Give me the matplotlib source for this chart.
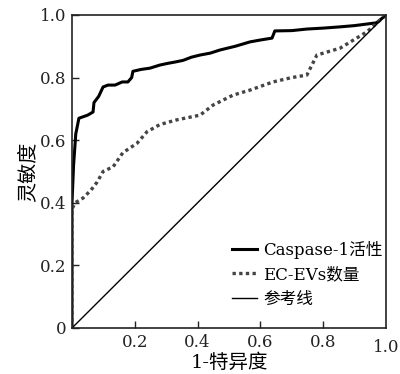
import matplotlib
matplotlib.use('Agg')
import matplotlib.pyplot as plt

plt.rcParams['font.family'] = ['DejaVu Serif', 'Noto Sans CJK SC']

# Caspase-1 activity ROC
casp_fpr = [0, 0.0, 0.005, 0.012, 0.022, 0.05, 0.067, 0.07, 0.085, 0.099, 0.115, 0.137,
            0.16, 0.178, 0.19, 0.194, 0.22, 0.248, 0.28, 0.303, 0.33, 0.354, 0.38, 0.408,
            0.44, 0.471, 0.52, 0.567, 0.6, 0.637, 0.646, 0.7, 0.748, 0.8, 0.854, 0.9,
            0.939, 0.97, 1.0]
casp_tpr = [0, 0.40, 0.52, 0.62, 0.67, 0.68, 0.69, 0.72, 0.74, 0.77, 0.776, 0.776,
            0.786, 0.786, 0.80, 0.82, 0.826, 0.83, 0.84, 0.845, 0.85, 0.855, 0.865, 0.872,
            0.878, 0.888, 0.90, 0.914, 0.92, 0.926, 0.949, 0.95, 0.955, 0.958, 0.962, 0.966,
            0.971, 0.975, 1.0]

# EC-EVs count ROC
ev_fpr = [0, 0.0, 0.0, 0.01, 0.035, 0.06, 0.080, 0.099, 0.131, 0.162, 0.207, 0.239,
          0.280, 0.334, 0.408, 0.449, 0.513, 0.567, 0.640, 0.700, 0.748, 0.780, 0.854,
          0.939, 1.0]
ev_tpr = [0, 0.28, 0.38, 0.40, 0.415, 0.44, 0.466, 0.50, 0.515, 0.56, 0.59, 0.627,
          0.65, 0.665, 0.68, 0.712, 0.744, 0.76, 0.786, 0.80, 0.808, 0.872, 0.894,
          0.946, 1.0]

ticks = [0.2, 0.4, 0.6, 0.8]

fig = plt.figure(figsize=(4.0, 3.74), dpi=100)
ax = fig.add_axes([0.18, 0.123, 0.785, 0.837])

ax.plot(casp_fpr, casp_tpr, color='black', lw=2.2, label='Caspase-1活性')
ax.plot(ev_fpr, ev_tpr, color='#444444', lw=2.4, ls=(0, (1, 1)), label='EC-EVs数量')
ax.plot([0, 1], [0, 1], color='black', lw=1.0, label='参考线')

ax.set_xlim(0, 1)
ax.set_ylim(0, 1)
ax.set_xticks(ticks)
ax.set_yticks([0] + ticks + [1.0])
ax.set_yticklabels(['0', '0.2', '0.4', '0.6', '0.8', '1.0'])
ax.tick_params(direction='in', length=5, width=1, labelsize=12, pad=4, colors='#222222')
for s in ax.spines.values():
    s.set_linewidth(1.2)
    s.set_color('#222222')

# 1.0 label at the right end of the x axis
ax.text(1.0, -0.035, '1.0', transform=ax.transAxes, ha='center', va='top', fontsize=12, color='#222222')

ax.set_xlabel('1-特异度', fontsize=14, labelpad=2)
ax.set_ylabel('灵敏度', fontsize=14.5, labelpad=2)

ax.legend(loc='lower right', bbox_to_anchor=(0.99, 0.065), frameon=False, fontsize=12,
          handlelength=1.5, handletextpad=0.4, labelspacing=0.45,
          borderpad=0, borderaxespad=0)

fig.savefig('out.png', dpi=100, facecolor='white')
